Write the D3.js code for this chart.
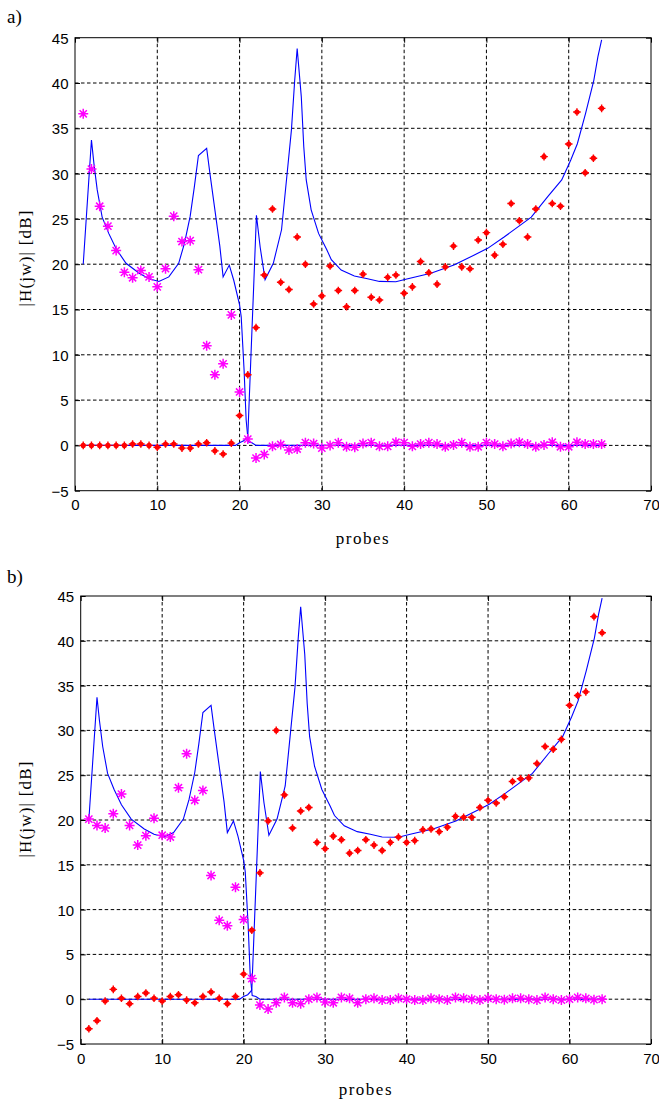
<!DOCTYPE html>
<html><head><meta charset="utf-8">
<script src="https://cdn.jsdelivr.net/npm/d3@7"></script>
<style>body{margin:0;background:#fff}svg{display:block}</style>
</head><body>
<svg id="c" width="659" height="1102"></svg>
<script>
const probes = [1,2,3,4,5,6,7,8,9,10,11,12,13,14,15,16,17,18,19,20,21,22,23,24,25,26,27,28,29,30,31,32,33,34,35,36,37,38,39,40,41,42,43,44,45,46,47,48,49,50,51,52,53,54,55,56,57,58,59,60,61,62,63,64];

const theoryAx = [1,2,2.3,2.7,3.3,4.1,5,6.2,7.8,9,10.2,11.4,12.6,13.3,14,14.5,15,16,16.4,17,17.6,18,18.75,19.3,20,20.2,20.55,20.8,21.05,21.5,22,64];
const theoryAy = [20,33.7,31.1,28.2,25.2,23.4,21.7,20.1,19.0,18.4,18.1,18.6,20.1,22.3,25.3,28.5,32.0,32.8,30.0,26.0,22.0,18.6,19.9,18.2,15.5,14.2,8.3,2.8,0.4,0.3,0,0];
const theoryBx = [1,19.5,20,20.5,21,21.75,22.05,22.5,23.1,24.1,25.1,25.7,26.3,26.7,27,27.5,27.8,28.1,28.7,29.6,30.6,31.15,32.35,33.95,35.55,37,39,40.45,43.25,46.05,48.95,50.15,52.15,54.25,55.45,57.45,59.15,60.25,61.05,62.05,63.05,63.55,64];
const theoryBy = [0,0,0.3,0.5,1.0,18.4,25.4,21.9,18.3,20.1,23.8,29.3,34.8,40.3,43.8,38.5,33.0,29.3,26.0,23.4,21.6,20.5,19.35,18.7,18.4,18.1,18.07,18.4,19.0,19.9,21.2,21.75,23.0,24.4,25.2,27.45,29.3,31.5,33.3,36.65,40.3,42.9,44.75];

// panel a) measured
const starsA = [36.6,30.5,26.4,24.2,21.5,19.1,18.5,19.3,18.6,17.5,
                19.5,25.3,22.5,22.6,19.4,11.0,7.8,9.0,14.4,5.9,
                0.7,-1.4,-1.0,-0.1,0.1,-0.5,-0.4,0.3,0.2,-0.3,
                0.0,0.3,-0.15,-0.2,0.2,0.3,-0.1,-0.1,0.35,0.3,
                -0.1,0.15,0.3,0.15,-0.15,0.05,0.3,-0.15,-0.15,0.3,
                0.15,-0.1,0.2,0.35,0.15,-0.15,0.05,0.35,-0.15,-0.15,
                0.35,0.15,0.15,0.15];
const dotsA = [0,0,0,0,0,0,0.15,0.15,0,-0.2,
               0.15,0.15,-0.3,-0.3,0.15,0.3,-0.6,-0.95,0.25,3.3,
               7.8,13.0,18.8,26.1,18.0,17.2,23.0,20.0,15.6,16.5,
               19.8,17.1,15.3,17.1,18.9,16.35,16.05,18.55,18.8,16.8,
               17.5,20.3,19.06,17.8,19.7,22.0,19.7,19.5,22.67,23.48,
               21.0,22.2,26.7,24.8,23.0,26.1,31.87,26.7,26.4,33.26,
               36.8,30.1,31.7,37.2];

// panel b) measured
const starsB = [20.1,19.4,19.1,20.7,22.9,19.4,17.2,18.25,20.2,18.3,
                18.1,23.6,27.4,22.2,23.3,13.8,8.8,8.2,12.5,8.9,
                2.3,-0.65,-1.1,-0.4,0.2,-0.4,-0.5,0,0.2,-0.3,
                -0.4,0.2,0.1,-0.4,0,0.1,-0.1,-0.1,0.1,0,
                -0.1,-0.1,0.1,0,-0.1,0.2,0.1,0,-0.1,0.1,
                0,-0.05,0.1,0.1,0,-0.1,0.2,0,-0.1,0,
                0.2,0.1,-0.05,0];
const dotsB = [-3.3,-2.4,-0.2,1.1,0.1,-0.5,0.3,0.7,0.1,-0.2,
               0.3,0.5,-0.1,-0.4,0.3,0.8,0.1,-0.5,0.3,2.8,
               7.7,14.1,19.9,30.0,22.8,19.1,21.0,21.4,17.5,16.8,
               18.2,17.8,16.3,16.6,17.8,17.2,16.6,17.5,18.1,17.5,
               17.7,18.9,19.0,18.7,19.2,20.4,20.3,20.3,21.4,22.2,
               21.9,22.6,24.3,24.6,24.7,26.3,28.2,27.9,29.0,32.8,
               33.9,34.3,42.7,40.9];

const xTicks = [0,10,20,30,40,50,60,70];
const yTicks = [-5,0,5,10,15,20,25,30,35,40,45];
const xLabel = "probes";
const yLabel = "|H(jw)| [dB]";

const svg = d3.select("#c");
svg.append("rect").attr("width",659).attr("height",1102).attr("fill","#fff");

const panels = [
  {tag:"a)", tagY:23, left:75, top:37.7, right:651, bottom:490.7, stars:starsA, dots:dotsA, yLabY:258, xLabY:544},
  {tag:"b)", tagY:583, left:80.7, top:596, right:651, bottom:1044, stars:starsB, dots:dotsB, yLabY:809, xLabY:1095}
];

const tickFont = "'Liberation Sans', Arial, sans-serif";
const serif = "'Liberation Serif', 'Times New Roman', serif";

panels.forEach(p => {
  const g = svg.append("g");
  const x = d3.scaleLinear().domain([0,70]).range([p.left,p.right]);
  const y = d3.scaleLinear().domain([-5,45]).range([p.bottom,p.top]);

  // grid
  g.append("g").selectAll("line").data(xTicks.slice(1,-1)).join("line")
    .attr("x1",d=>x(d)).attr("x2",d=>x(d)).attr("y1",p.top).attr("y2",p.bottom)
    .attr("stroke","#000").attr("stroke-width",1).attr("stroke-dasharray","3.5,2.5");
  g.append("g").selectAll("line").data(yTicks.slice(1,-1)).join("line")
    .attr("x1",p.left).attr("x2",p.right).attr("y1",d=>y(d)).attr("y2",d=>y(d))
    .attr("stroke","#000").attr("stroke-width",1).attr("stroke-dasharray","3.5,2.5");

  // axes
  g.append("g").attr("transform",`translate(0,${p.bottom})`)
    .call(d3.axisBottom(x).tickValues(xTicks).tickSize(-5).tickPadding(9).tickFormat(d3.format("d")));
  const axL = g.append("g").attr("transform",`translate(${p.left},0)`)
    .call(d3.axisLeft(y).tickValues(yTicks).tickSize(-5).tickPadding(6.5).tickFormat(d3.format("d")));
  g.append("g").attr("transform",`translate(0,${p.top})`)
    .call(d3.axisTop(x).tickValues(xTicks).tickSize(-5).tickFormat(""));
  g.append("g").attr("transform",`translate(${p.right},0)`)
    .call(d3.axisRight(y).tickValues(yTicks).tickSize(-5).tickFormat(""));
  g.selectAll(".domain").remove();
  g.selectAll(".tick line").attr("stroke","#000");
  g.selectAll(".tick text").attr("font-family",tickFont).attr("font-size",15).attr("fill","#000");
  axL.selectAll(".tick text").attr("dy","0.36em");

  g.append("rect").attr("x",p.left).attr("y",p.top)
    .attr("width",p.right-p.left).attr("height",p.bottom-p.top)
    .attr("fill","none").attr("stroke","#000").attr("stroke-width",1);

  // theory lines
  const line = d3.line().x(d=>x(d[0])).y(d=>y(d[1]));
  [[theoryAx,theoryAy],[theoryBx,theoryBy]].forEach(([xs,ys]) => {
    g.append("path").datum(d3.zip(xs,ys)).attr("d",line)
      .attr("fill","none").attr("stroke","#0000ff").attr("stroke-width",1.1);
  });

  // red dots
  const dg = g.append("g").selectAll("g").data(p.dots).join("g")
    .attr("transform",(d,i)=>`translate(${x(probes[i])},${y(d)})`);
  dg.append("circle").attr("r",2.6).attr("fill","#ff0000");
  dg.append("path").attr("d","M-3.8,0H3.8M0,-3.8V3.8")
    .attr("stroke","#ff0000").attr("stroke-width",1.4);

  // magenta stars
  g.append("g").selectAll("path").data(p.stars).join("path")
    .attr("transform",(d,i)=>`translate(${x(probes[i])},${y(d)})`)
    .attr("d","M-5,0H5M0,-5V5M-3.6,-3.6L3.6,3.6M-3.6,3.6L3.6,-3.6")
    .attr("fill","none").attr("stroke","#ff00ff").attr("stroke-width",1.5);

  // labels
  svg.append("text").attr("x",7).attr("y",p.tagY).text(p.tag)
    .attr("font-family",serif).attr("font-size",19).attr("fill","#000");
  svg.append("text").attr("x",(p.left+p.right)/2).attr("y",p.xLabY)
    .attr("text-anchor","middle").text(xLabel)
    .attr("font-family",serif).attr("font-size",17).attr("letter-spacing","1.5px").attr("fill","#000");
  svg.append("text").attr("transform",`translate(31,${p.yLabY}) rotate(-90)`)
    .attr("text-anchor","middle").text(yLabel)
    .attr("font-family",serif).attr("font-size",17).attr("letter-spacing","1.2px").attr("fill","#000");
});
</script>
</body></html>
